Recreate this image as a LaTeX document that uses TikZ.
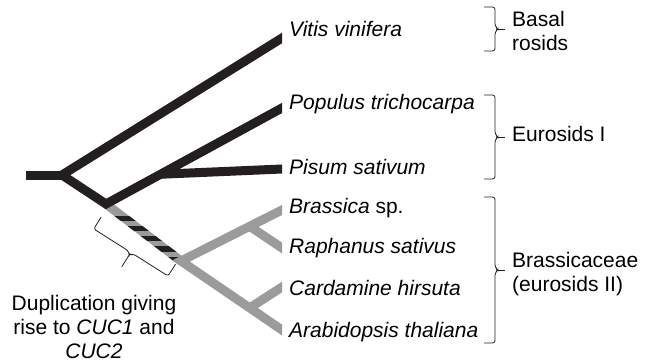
\documentclass[tikz,border=0pt]{standalone}
\usepackage{fontspec}
\setmainfont{Liberation Sans}
\usetikzlibrary{calc}
\definecolor{inkblack}{HTML}{231F20}
\definecolor{brassgray}{HTML}{9B9B9B}
\newcommand\labelsize{\fontsize{21}{24}\selectfont}
\tikzset{
  branch/.style={line width=9pt,inkblack},
  brassbranch/.style={line width=9pt,brassgray},
  taxon/.style={anchor=base west,inner sep=0pt,font=\labelsize\itshape},
  clade/.style={anchor=base west,inner sep=0pt,align=left,font=\labelsize},
  pics/bracket/.style n args={3}{code={
    \draw[line width=.8pt,inkblack,rounded corners=2.5pt] (0,0) -- (#2,0) -- (#2,#1/2-3) -- (#2+3,#1/2) -- (#2,#1/2+3) -- (#2,#1) -- (0,#1);
    \draw[line width=.8pt,inkblack] (#2+2,#1/2) -- (#2+#3,#1/2);
  }}
}
\begin{document}
\begin{tikzpicture}[x=1pt,y=-1pt]
  \useasboundingbox (0,0) rectangle (648,362);
  \coordinate (stub) at (26,175);
  \coordinate (root) at (62,175);
  \coordinate (A) at (106,204);
  \coordinate (B) at (181,261);
  \coordinate (vit) at (282,38);
  \coordinate (pop) at (282,108);
  \coordinate (pis) at (282,169);
  \coordinate (bra) at (282,210);
  \coordinate (rap) at (282,248);
  \coordinate (car) at (282,287);
  \coordinate (ara) at (282,330);
  \coordinate (pisfork) at ($(A)!0.31!(pop)$);
  \coordinate (rapfork) at ($(B)!0.68!(bra)$);
  \coordinate (carfork) at ($(B)!0.68!(ara)$);
  \begin{scope}
    \clip (0,0) rectangle (282,362);
    \draw[brassbranch] (A) -- (B);
    \begin{scope}
      \clip ($(A)!4.5pt!90:(B)$) -- ($(B)!4.5pt!-90:(A)$) -- ($(B)!4.5pt!90:(A)$) -- ($(A)!4.5pt!-90:(B)$) -- cycle;
      \foreach \t in {0.25,0.43,0.61,0.79,0.97}
        \draw[inkblack,line width=5.2pt] ($(A)!\t!(B)$) ++(-15,0) -- ++(30,0);
    \end{scope}
    \draw[branch] (stub) -- (root);
    \draw[branch,line join=miter,shorten <=-8pt,shorten >=-8pt] (vit) -- (root) -- (A) -- (pop);
    \draw[branch,shorten >=-8pt] (pisfork) -- (pis);
    \draw[brassbranch,line join=miter,shorten <=-8pt,shorten >=-8pt] (bra) -- (B) -- (ara);
    \draw[brassbranch,shorten >=-8pt] (rapfork) -- (rap);
    \draw[brassbranch,shorten >=-8pt] (carfork) -- (car);
  \end{scope}
  \node[taxon] (vitis) at (289,36) {Vitis vinifera};
  \node[taxon] (populus) at (289,109) {Populus trichocarpa};
  \node[taxon] (pisum) at (289,174) {Pisum sativum};
  \node[taxon] (brassica) at (289,213) {Brassica \textup{sp.}};
  \node[taxon] (raphanus) at (289,253) {Raphanus sativus};
  \node[taxon] (cardamine) at (289,295) {Cardamine hirsuta};
  \node[taxon] (arabidopsis) at (289,337) {Arabidopsis thaliana};
  \pic at (484,7) {bracket={44}{11}{10}};
  \pic at (484,95) {bracket={84}{11}{10}};
  \pic at (484,197) {bracket={146}{11}{10}};
  \pic[rotate=-122.4] at (175.5,264.2) {bracket={88}{14}{17}};
  \node[clade] (basal) at (512,50) {Basal\\rosids};
  \node[clade] (eurosids) at (512,141) {Eurosids I};
  \node[clade] (brassicaceae) at (512,291) {Brassicaceae\\(eurosids II)};
  \node[clade,align=center,anchor=base] (dup) at (94,358) {Duplication giving\\rise to \textit{CUC1} and\\\textit{CUC2}};
\end{tikzpicture}
\end{document}
